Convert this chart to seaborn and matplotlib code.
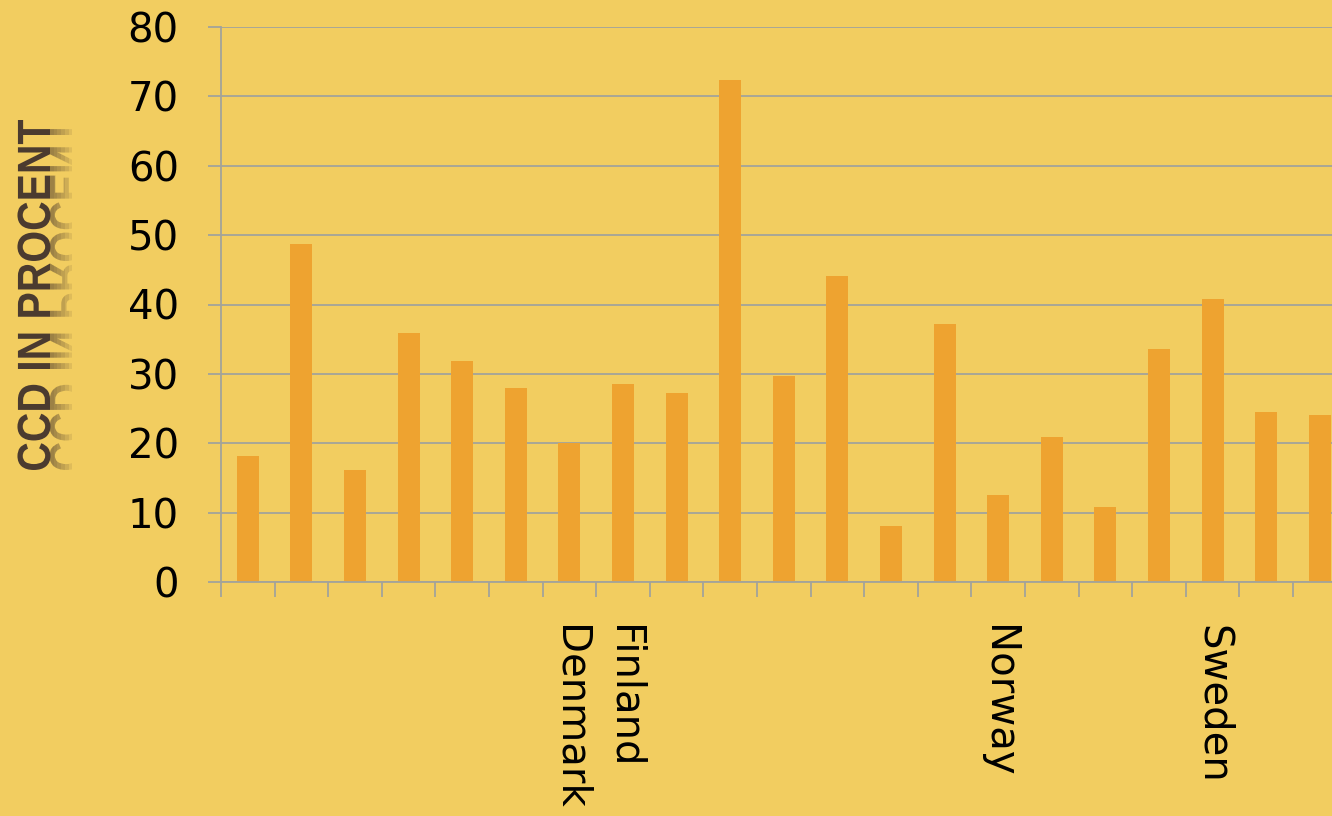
import numpy as np
import pandas as pd
import seaborn as sns
import matplotlib.pyplot as plt
from matplotlib.textpath import TextPath
from matplotlib.font_manager import FontProperties
from matplotlib.patches import PathPatch
from matplotlib.ticker import NullFormatter
from matplotlib.transforms import Affine2D, Bbox

# bar values (left to right)
bar_ids = [str(i) for i in range(1, 22)]
ccd_values = [18.2, 48.7, 16.1, 35.9, 31.8, 28.0, 20.0, 28.5, 27.2, 72.3, 29.7,
              44.1, 8.1, 37.2, 12.5, 20.9, 10.8, 33.6, 40.8, 24.5, 24.1]
country_labels = ['', '', '', '', '', '', 'Denmark', 'Finland', '', '', '', '',
                  '', '', 'Norway', '', '', '', 'Sweden', '', '']
y_ticks = [0, 10, 20, 30, 40, 50, 60, 70, 80]
y_title = 'CCD IN PROCENT'

bg = '#F2CD60'
bar_color = '#EEA330'
grid_color = '#A3A39A'
title_color = '#4B3B2F'

df = pd.DataFrame({'bar': bar_ids, 'ccd': ccd_values})

sns.set_style('white')
plt.rcParams['font.family'] = ['DejaVu Sans']

W, H = 1332, 816
fig = plt.figure(figsize=(W / 100, H / 100), dpi=100, facecolor=bg)

##axes runs off the right edge, like the original slide
n_slots = 22
slot_px = 53.6
ax = fig.add_axes([221 / W, 234 / H, n_slots * slot_px / W, 555 / H])
ax.set_facecolor(bg)
ax.set_axisbelow(True)

sns.barplot(data=df, x='bar', y='ccd', color=bar_color, width=0.41,
            saturation=1, ax=ax, zorder=2, edgecolor=bar_color, linewidth=0)

ax.set_xlim(-0.5, n_slots - 0.5)
ax.set_ylim(0, 80)
ax.set_yticks(y_ticks)
ax.yaxis.grid(True, color=grid_color, lw=1.3)
ax.xaxis.grid(False)

##tick marks between categories, names on minor ticks at the bar centres
ax.set_xticks(np.arange(-0.5, n_slots, 1))
ax.xaxis.set_major_formatter(NullFormatter())
ax.set_xticks(range(len(bar_ids)), labels=country_labels, minor=True)
ax.tick_params(axis='x', which='major', bottom=True, length=11, width=1.3,
               color=grid_color, direction='out')
ax.tick_params(axis='x', which='minor', bottom=True, length=0, pad=31,
               labelsize=29, labelrotation=270, labelcolor='black')
ax.tick_params(axis='y', left=True, length=9.4, width=1.3, color=grid_color,
               direction='out', pad=21, labelsize=29, labelcolor='black')
ax.set_xlabel('')
ax.set_ylabel('')

for s in ['top', 'right']:
    ax.spines[s].set_visible(False)
for s in ['left', 'bottom']:
    ax.spines[s].set_color(grid_color)
    ax.spines[s].set_linewidth(1.3)

##y title drawn as a path so it can be squeezed and mirrored
fp = FontProperties(family='Liberation Sans', weight='bold')
tp = TextPath((0, 0), y_title, size=1, prop=fp)
ext = tp.get_extents()
base = Affine2D().translate(-ext.x0, 0).scale(350 / ext.width, 33 / ext.height)
place = Affine2D().rotate_deg(90).translate(50, H - 470)

fig.add_artist(PathPatch(tp, transform=base + place, facecolor=title_color,
                         edgecolor='none'))

##faded reflection next to the baseline
mirror = base + Affine2D().scale(1, -1) + place
for k in range(1, 7):
    p = PathPatch(tp, transform=mirror, facecolor=title_color,
                  edgecolor='none', alpha=0.11)
    p.set_clip_box(Bbox.from_extents(50, 0, 50 + k * 3.7, H))
    fig.add_artist(p)

fig.savefig('out.png', dpi=100, facecolor=bg)
